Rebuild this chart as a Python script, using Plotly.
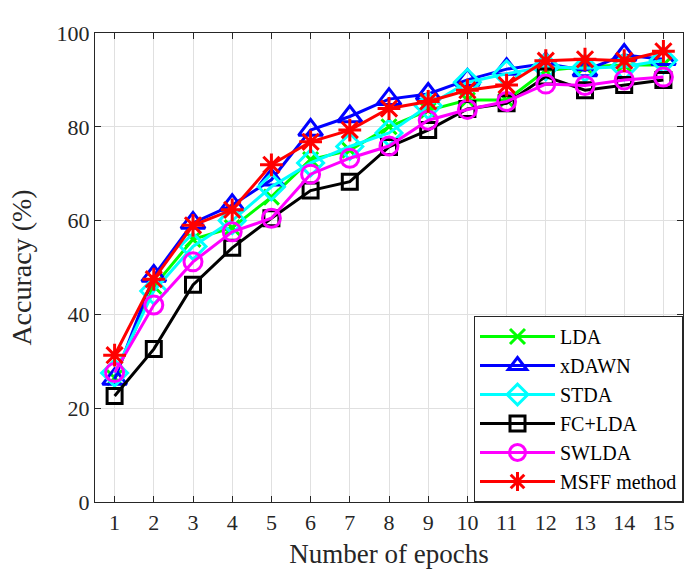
import plotly.graph_objects as go

epochs = list(range(1, 16))
lda = [26.5, 46, 56, 58.5, 65, 73, 75, 80, 83.5, 85.7, 85.7, 92, 92.8, 93.2, 93.2]
xdawn = [26.2, 48.2, 59.5, 63.3, 68.7, 79.3, 82.2, 85.9, 87, 90, 92.3, 93.5, 92, 95.3, 94.4]
stda = [27.5, 45, 54.5, 60, 67.2, 72.3, 75.8, 78.7, 84.5, 89.5, 91.3, 92.8, 92.5, 92.8, 94.2]
fclda = [22.6, 32.6, 46.3, 54.2, 60.5, 66.4, 68.3, 75.7, 79.3, 83.8, 85, 90.7, 87.8, 88.9, 90]
swlda = [27.6, 42, 51.2, 57.6, 60.5, 69.9, 73.3, 75.9, 81.4, 83.7, 85.4, 89.1, 88.8, 90, 90.6]
msff = [31.3, 47.5, 59, 62.3, 71.9, 76.8, 79.3, 83.9, 85.4, 87.8, 88.9, 94.1, 94.4, 94.1, 96.1]

series = [
    ("LDA", lda, "#00ff00", "x-thin-open", 15),
    ("xDAWN", xdawn, "#0000ff", "triangle-up-open", 21),
    ("STDA", stda, "#00ffff", "diamond-open", 20),
    ("FC+LDA", fclda, "#000000", "square-open", 15),
    ("SWLDA", swlda, "#ff00ff", "circle-open", 18),
    ("MSFF method", msff, "#ff0000", "asterisk-open", 19),
]

fig = go.Figure()
for name, vals, color, sym, size in series:
    fig.add_trace(go.Scatter(
        x=epochs, y=vals, name=name, mode="lines+markers",
        line=dict(color=color, width=3),
        marker=dict(symbol=sym, size=size, color=color, line=dict(color=color, width=3)),
    ))

axis_common = dict(
    showline=True, linecolor="#262626", linewidth=1.2, mirror="ticks",
    ticks="inside", ticklen=6, tickcolor="#262626",
    showgrid=True, gridcolor="#e0e0e0", gridwidth=1, zeroline=False,
    tickfont=dict(family="Liberation Serif", size=22, color="#262626"),
)

fig.update_layout(
    width=692, height=571,
    margin=dict(l=95, r=9, t=33, b=69),
    paper_bgcolor="white", plot_bgcolor="white",
    font=dict(family="Liberation Serif", color="#262626"),
    xaxis=dict(range=[0.5, 15.5], tickvals=epochs, **axis_common,
               title=dict(text="Number of epochs", font=dict(family="Liberation Serif", size=27), standoff=10)),
    yaxis=dict(range=[0, 100], tickvals=[0, 20, 40, 60, 80, 100], **axis_common,
               title=dict(text="Accuracy (%)", font=dict(family="Liberation Serif", size=28), standoff=16)),
    legend=dict(x=1, y=0, xanchor="right", yanchor="bottom",
                bordercolor="#262626", borderwidth=1, bgcolor="white",
                font=dict(family="Liberation Serif", size=20, color="#000000"),
                tracegroupgap=0, itemwidth=75,
                entrywidth=235, entrywidthmode="pixels"),
    showlegend=True,
)

fig.write_html("out.html")
